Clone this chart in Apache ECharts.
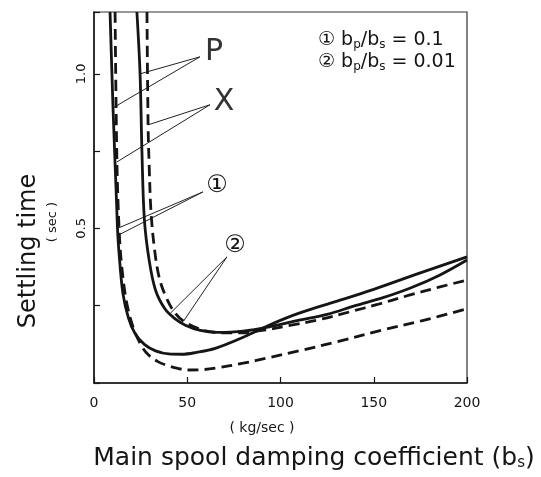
<!DOCTYPE html>
<html><head><meta charset="utf-8">
<script src="https://cdn.jsdelivr.net/npm/echarts/dist/echarts.min.js"></script>
<style>html,body{margin:0;padding:0;background:#fff}#c{width:541px;height:477px}</style>
</head><body><div id="c"></div>
<script>
// x: main spool damping coefficient bs (kg/sec), y: settling time (sec)
const xTickValues = [0, 50, 100, 150, 200];
const yTickLabels = {0.5: '0.5', 1: '1.0'};

// P, case (1) bp/bs = 0.1  (solid, inner)
const p1Bs   = [8.6, 10.2, 12.0, 12.6, 13.3, 15.5, 18.5, 22, 27, 33, 40, 47, 55, 65, 80, 95, 110, 130, 150, 173, 200];
const p1Time = [1.2, 0.89, 0.6, 0.5, 0.43, 0.29, 0.21, 0.16, 0.125, 0.104, 0.094, 0.093, 0.099, 0.112, 0.148, 0.19, 0.226, 0.264, 0.303, 0.352, 0.408];
// X, case (1) (dashed, inner)
const x1Bs   = [11.3, 12.3, 13.6, 15, 17.5, 21, 25, 29, 34, 39, 45, 51, 58, 66, 80, 93, 110, 130, 155, 175, 200];
const x1Time = [1.2, 0.715, 0.48, 0.37, 0.26, 0.18, 0.125, 0.092, 0.07, 0.057, 0.047, 0.042, 0.043, 0.049, 0.064, 0.081, 0.104, 0.133, 0.172, 0.2, 0.24];
// P, case (2) bp/bs = 0.01 (solid, outer)
const p2Bs   = [23, 24.7, 25.7, 27, 29.5, 33, 38, 43, 49, 57, 66, 80, 95, 110, 125, 140, 155, 170, 185, 200];
const p2Time = [1.2, 1.0, 0.75, 0.53, 0.4, 0.3, 0.24, 0.21, 0.187, 0.17, 0.164, 0.168, 0.183, 0.203, 0.222, 0.25, 0.276, 0.308, 0.348, 0.398];
// X, case (2) (dashed, outer)
const x2Bs   = [28.4, 29, 29.6, 30.6, 32.5, 35, 38.5, 43, 48, 56, 66, 78, 90, 105, 120, 137, 152, 169, 185, 200];
const x2Time = [1.2, 0.835, 0.7, 0.55, 0.43, 0.34, 0.28, 0.23, 0.2, 0.176, 0.163, 0.162, 0.17, 0.186, 0.204, 0.23, 0.254, 0.284, 0.31, 0.333];

// leader lines of the annotations [fromBs, fromTime, toBs, toTime]
const leaderP   = [[56.8, 1.055, 24.7, 1.0], [56.8, 1.055, 10.2, 0.89]];
const leaderX   = [[62.2, 0.90, 29.0, 0.835], [62.2, 0.90, 12.3, 0.715]];
const leaderOne = [[58.4, 0.618, 12.6, 0.5], [58.4, 0.618, 13.6, 0.48]];
const leaderTwo = [[71.3, 0.408, 41.0, 0.226], [71.3, 0.408, 48.0, 0.2]];

const pts = (a, b) => a.map((v, i) => [v, b[i]]);
const leaders = [].concat(leaderP, leaderX, leaderOne, leaderTwo)
  .map(l => ({coords: [[l[0], l[1]], [l[2], l[3]]]}));

const ink = '#151515';
const FONT = "'DejaVu Sans', 'Noto Sans CJK JP', sans-serif";
const chart = echarts.init(document.getElementById('c'));
chart.setOption({
  animation: false,
  backgroundColor: '#fff',
  grid: {left: 94, right: 74, top: 12, bottom: 94, show: true, borderColor: '#333', borderWidth: 1.2},
  xAxis: {
    type: 'value', min: 0, max: 200, interval: 50,
    axisLine: {lineStyle: {color: ink, width: 1.5}},
    axisTick: {inside: true, length: 6, lineStyle: {color: ink, width: 1.2}},
    axisLabel: {color: ink, fontSize: 14, margin: 13, fontFamily: FONT,
      formatter: v => xTickValues.includes(v) ? String(v) : ''},
    splitLine: {show: false}
  },
  yAxis: {
    type: 'value', min: 0, max: 1.2, interval: 0.25,
    axisLine: {lineStyle: {color: ink, width: 1.5}},
    axisTick: {inside: true, length: 6, lineStyle: {color: ink, width: 1.2}},
    axisLabel: {color: ink, fontSize: 13, margin: 6, rotate: 90, fontFamily: FONT,
      formatter: v => yTickLabels[v] || ''},
    splitLine: {show: false}
  },
  series: [
    {type: 'line', data: pts(p1Bs, p1Time), smooth: 0.35, showSymbol: false, clip: true,
     lineStyle: {color: ink, width: 2.8}},
    {type: 'line', data: pts(x1Bs, x1Time), smooth: 0.35, showSymbol: false, clip: true,
     lineStyle: {color: ink, width: 2.8, type: [11, 6]}},
    {type: 'line', data: pts(p2Bs, p2Time), smooth: 0.35, showSymbol: false, clip: true,
     lineStyle: {color: ink, width: 2.8}},
    {type: 'line', data: pts(x2Bs, x2Time), smooth: 0.35, showSymbol: false, clip: true,
     lineStyle: {color: ink, width: 2.8, type: [11, 6]}},
    {type: 'lines', coordinateSystem: 'cartesian2d', silent: true, data: leaders,
     lineStyle: {color: '#222', width: 1, opacity: 1}}
  ],
  graphic: [
    {type: 'text', x: 29, y: 251, rotation: Math.PI / 2,
     style: {text: 'Settling time', fontSize: 24, fontFamily: FONT, fill: ink, align: 'center', verticalAlign: 'middle'}},
    {type: 'text', x: 53, y: 222, rotation: Math.PI / 2,
     style: {text: '( sec )', fontSize: 13, fontFamily: FONT, fill: ink, align: 'center', verticalAlign: 'middle'}},
    {type: 'text', x: 262, y: 428,
     style: {text: '( kg/sec )', fontSize: 14, fontFamily: FONT, fill: ink, align: 'center', verticalAlign: 'middle'}},
    {type: 'text', x: 314, y: 458,
     style: {text: 'Main spool damping coefficient (b{s|s})', fontSize: 25, fontFamily: FONT, fill: ink,
       align: 'center', verticalAlign: 'middle',
       rich: {s: {fontSize: 15, fontFamily: FONT, fill: ink, verticalAlign: 'bottom', padding: [9, 0, 0, 0]}}}},
    {type: 'text', x: 318, y: 40,
     style: {text: '\u2460 b{s|p}/b{s|s} = 0.1', fontSize: 19, fontFamily: FONT, fill: ink, verticalAlign: 'middle',
       rich: {s: {fontSize: 12, fontFamily: FONT, fill: ink, padding: [9, 0, 0, 0]}}}},
    {type: 'text', x: 318, y: 62,
     style: {text: '\u2461 b{s|p}/b{s|s} = 0.01', fontSize: 19, fontFamily: FONT, fill: ink, verticalAlign: 'middle',
       rich: {s: {fontSize: 12, fontFamily: FONT, fill: ink, padding: [9, 0, 0, 0]}}}},
    {type: 'text', x: 214, y: 52,
     style: {text: 'P', fontSize: 30, fontFamily: FONT, fill: '#333', align: 'center', verticalAlign: 'middle'}},
    {type: 'text', x: 224, y: 102,
     style: {text: 'X', fontSize: 30, fontFamily: FONT, fill: '#333', align: 'center', verticalAlign: 'middle'}},
    {type: 'text', x: 217, y: 186,
     style: {text: '\u2460', fontSize: 24, fontFamily: FONT, fill: ink, align: 'center', verticalAlign: 'middle'}},
    {type: 'text', x: 235, y: 246,
     style: {text: '\u2461', fontSize: 24, fontFamily: FONT, fill: ink, align: 'center', verticalAlign: 'middle'}}
  ]
});
</script>
</body></html>
